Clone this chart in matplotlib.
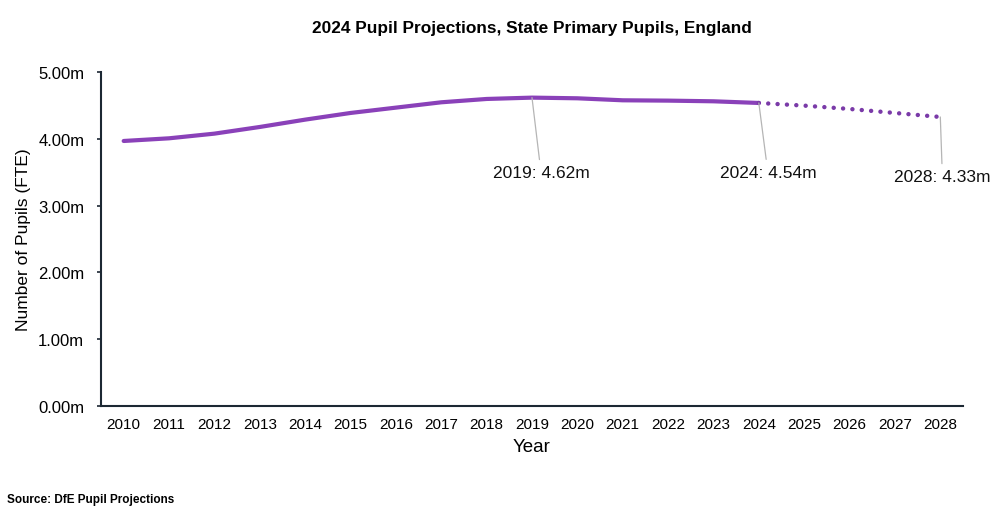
import matplotlib
matplotlib.use("Agg")
import matplotlib.pyplot as plt
import numpy as np

plt.rcParams['font.family'] = ['Liberation Sans', 'DejaVu Sans']

years = ['2010', '2011', '2012', '2013', '2014', '2015', '2016', '2017', '2018',
         '2019', '2020', '2021', '2022', '2023', '2024', '2025', '2026', '2027', '2028']
actual = [3.97, 4.01, 4.08, 4.18, 4.29, 4.39, 4.47, 4.55, 4.60,
          4.62, 4.61, 4.58, 4.575, 4.565, 4.54]
projected = [4.54, 4.50, 4.45, 4.39, 4.33]
yticks = [0, 1, 2, 3, 4, 5]
ytick_labels = ['0.00m', '1.00m', '2.00m', '3.00m', '4.00m', '5.00m']
callouts = [('2019', 4.62, '2019: 4.62m'), ('2024', 4.54, '2024: 4.54m'), ('2028', 4.33, '2028: 4.33m')]

fig = plt.figure(figsize=(10.07, 5.10), dpi=100)
ax = fig.add_axes([0.1003, 0.2025, 0.856, 0.6538])

x = np.arange(len(years))
n_act = len(actual)
ax.plot(x[:n_act], actual, color='#8a41b9', lw=3.0, solid_capstyle='round', zorder=3)
ax.plot(x[n_act - 1:], projected, color='#7a3aa8', lw=3.2,
        linestyle=(0, (0.01, 2.1)), dash_capstyle='round', zorder=3)

offsets = {'2019': (6.5, -54), '2024': (6.5, -50), '2028': (1.5, -43)}
for yr, val, lab in callouts:
    xi = years.index(yr)
    ax.annotate(lab, xy=(xi, val), xytext=offsets[yr], textcoords='offset points',
                ha='center', va='center', fontsize=12.5, color='#111111',
                arrowprops=dict(arrowstyle='-', color='#b5b5b5', lw=0.9,
                                shrinkA=2, shrinkB=0))

ax.set_xlim(-0.5, len(years) - 0.5)
ax.set_ylim(0, 5)
ax.set_xticks(x)
ax.set_xticklabels(years, fontsize=11)
ax.set_yticks(yticks)
ax.set_yticklabels(ytick_labels, fontsize=12)
ax.tick_params(axis='x', length=0, pad=8)
ax.tick_params(axis='y', length=3, width=1.2, pad=9, color='#1c2833')

for s in ['top', 'right']:
    ax.spines[s].set_visible(False)
for s in ['left', 'bottom']:
    ax.spines[s].set_color('#1c2833')
    ax.spines[s].set_linewidth(1.5)

ax.set_xlabel('Year', fontsize=13.5, labelpad=5)
ax.set_ylabel('Number of Pupils (FTE)', fontsize=12.5, labelpad=5)

fig.text(0.528, 0.945, '2024 Pupil Projections, State Primary Pupils, England',
         ha='center', va='center', fontsize=12.4, fontweight='bold')
fig.text(0.007, 0.02, 'Source: DfE Pupil Projections', ha='left', va='center',
         fontsize=8.5, fontweight='bold')

fig.savefig('out.png', dpi=100)
